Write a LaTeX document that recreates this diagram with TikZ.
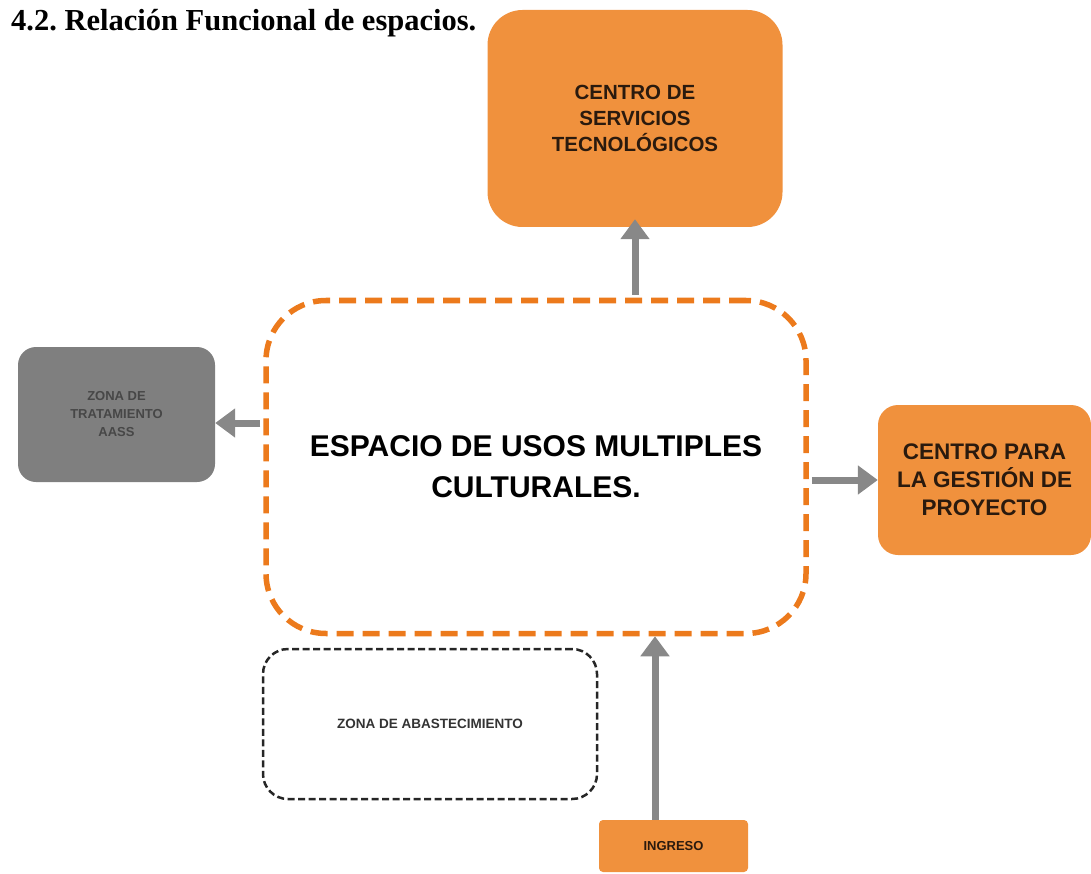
\documentclass[tikz,border=0pt]{standalone}
\usepackage{fontspec}
\setmainfont{Liberation Serif}
\setsansfont{Liberation Sans}
\usetikzlibrary{arrows.meta}
\definecolor{orfill}{HTML}{F0913D}
\definecolor{ordash}{HTML}{EC7A1C}
\definecolor{grfill}{HTML}{7F7F7F}
\definecolor{grarrow}{HTML}{888888}
\definecolor{txtdark}{HTML}{2A1A0E}
\frenchspacing
\tikzset{
  orbox/.style={fill=orfill, draw=none, rounded corners=#1, inner sep=0pt, font=\sffamily\bfseries, text=txtdark, align=center},
  orbox/.default=30pt,
  conn/.style={draw=grarrow, line width=7pt, -{Triangle[length=20pt,width=28pt]}},
}
\begin{document}
\begin{tikzpicture}[x=1pt,y=-1pt]
\useasboundingbox (0,0) rectangle (1091,874);
% title
\node[anchor=base west, inner sep=0pt, font=\fontsize{30.5}{34}\selectfont\bfseries] (title) at (11,31) {4.2. Relación Funcional de espacios.};
% top box
\node[orbox=35pt, minimum width=295pt, minimum height=217pt, font=\fontsize{20.5}{26}\selectfont\sffamily\bfseries] (top) at (635,118.5) {CENTRO DE\\SERVICIOS\\TECNOLÓGICOS};
% central dashed box
\node[draw=ordash, line width=5.5pt, dash pattern=on 17pt off 9pt, rounded corners=60pt, minimum width=540pt, minimum height=333pt, inner sep=0pt, align=center, font=\fontsize{30}{41}\selectfont\sffamily\bfseries, text=black] (main) at (536,467) {ESPACIO DE USOS MULTIPLES\\CULTURALES.};
% left gray box
\node[fill=grfill, rounded corners=18pt, minimum width=197pt, minimum height=135pt, inner sep=0pt, align=center, font=\fontsize{13}{18}\selectfont\sffamily\bfseries, text=black!72] (left) at (116.5,414.5) {ZONA DE\\TRATAMIENTO\\AASS};
% right box
\node[orbox=20pt, minimum width=213pt, minimum height=150pt, font=\fontsize{22.5}{28}\selectfont\sffamily\bfseries] (right) at (984.5,480) {CENTRO PARA\\LA GESTIÓN DE\\PROYECTO};
% dashed black box
\node[draw=black!85, line width=2.5pt, dash pattern=on 7pt off 3.5pt, rounded corners=25pt, minimum width=334pt, minimum height=150pt, inner sep=0pt, font=\fontsize{13.5}{16}\selectfont\sffamily\bfseries, text=black!80] (abast) at (430,724) {ZONA DE ABASTECIMIENTO};
% ingreso
\node[orbox=4pt, minimum width=149pt, minimum height=52pt, font=\fontsize{13}{15}\selectfont\sffamily\bfseries] (ingreso) at (673.5,846) {INGRESO};
% connectors
\draw[conn] (main.north -| top.south) ++(0,-3) coordinate (a1) -- ([yshift=8pt]top.south -| a1) coordinate (a1e);
\draw[conn] ([yshift=44pt, xshift=-3pt]main.west) -- ([yshift=-8.5pt]left.east);
\draw[conn] ([yshift=-13pt, xshift=3pt]main.east) -- (right.west);
\draw[conn] ([xshift=-18.5pt]ingreso.north) coordinate (a4) -- (a4 |- main.south);
\end{tikzpicture}
\end{document}
